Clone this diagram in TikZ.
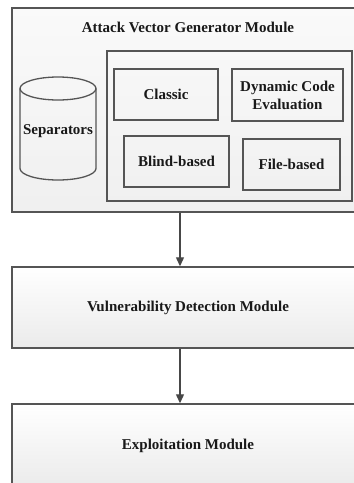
\documentclass[tikz,border=0pt]{standalone}
\usepackage{fontspec}
\setmainfont{Liberation Serif}
\usetikzlibrary{arrows.meta}
\definecolor{edge}{HTML}{555555}
\begin{document}
\begin{tikzpicture}[x=1pt,y=-1pt,
  lbl/.style={font=\fontsize{15}{18}\selectfont\bfseries, text=black!90, align=center},
  modbox/.style={draw=edge, line width=1.4pt, top color=white, bottom color=gray!16, minimum width=352pt, inner sep=0pt, lbl},
  sub/.style={draw=edge, line width=1.3pt, inner sep=0pt, lbl},
  cyl/.style={draw=edge, line width=1.3pt},
  arr/.style={draw=black!72, line width=1.2pt, -{Triangle[length=9pt,width=8pt]}}]
\useasboundingbox (0,0) rectangle (354,483);
\clip (0,0) rectangle (354,483);
\node[modbox, minimum height=204pt, top color=gray!4, bottom color=gray!12] (avg) at (188,110) {};
\node[lbl] (title) at (188,27) {Attack Vector Generator Module};
\node[sub, minimum width=245pt, minimum height=150pt] (inner) at (229.5,126) {};
\node[sub, minimum width=104pt, minimum height=51pt] (classic) at (166,94.5) {Classic};
\node[sub, minimum width=111pt, minimum height=52pt] (dce) at (287.5,95) {Dynamic Code\\Evaluation};
\node[sub, minimum width=105pt, minimum height=51pt] (blind) at (176.5,161.5) {Blind-based};
\node[sub, minimum width=97pt, minimum height=51pt] (file) at (291.5,164.5) {File-based};
\draw[cyl] (20,88.5) -- (20,168.5) arc[start angle=180, end angle=0, x radius=38, y radius=11.5] -- (96,88.5);
\draw[cyl] (58,88.5) ellipse [x radius=38, y radius=11.5];
\node[lbl] (sep) at (58,131) {Separators};
\node[modbox, minimum height=81pt] (vdm) at (188,307.5) {Vulnerability Detection Module};
\node[modbox, minimum height=83pt] (exp) at (188,445.5) {Exploitation Module};
\draw[arr] ([xshift=-8pt]avg.south) -- ([xshift=-8pt]vdm.north);
\draw[arr] ([xshift=-8pt]vdm.south) -- ([xshift=-8pt]exp.north);
\end{tikzpicture}
\end{document}
